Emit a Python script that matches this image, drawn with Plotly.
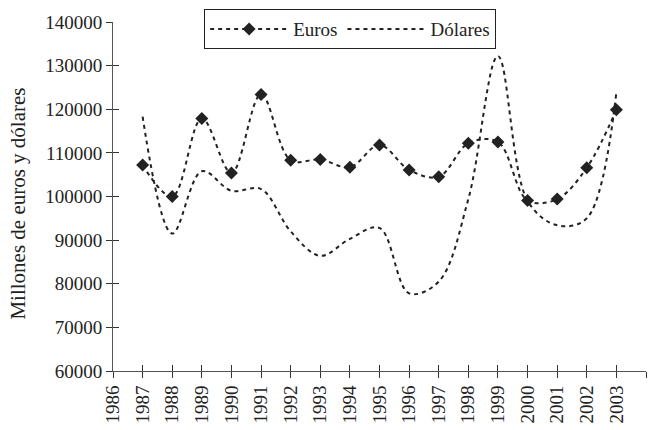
import plotly.graph_objects as go

# Annual series, 1987-2003
years = list(range(1987, 2004))
euros = [107200, 100000, 117900, 105400, 123400, 108300, 108500, 106700, 111800,
         106100, 104500, 112200, 112500, 99100, 99400, 106600, 119900]
dolares = [118300, 91500, 105800, 101300, 101700, 92000, 86400, 90300, 92800,
           77800, 80500, 99400, 132200, 99000, 93400, 95000, 123900]

x_ticks = list(range(1986, 2005))
y_ticks = list(range(60000, 140001, 10000))
y_title = "Millones de euros y dólares"

INK = "#222222"
FONT = "Liberation Serif, Times New Roman, serif"

fig = go.Figure()

fig.add_trace(go.Scatter(
    x=years, y=euros, name="Euros",
    mode="lines+markers",
    line=dict(color=INK, width=2, dash="4px,4px", shape="spline", smoothing=1.0),
    marker=dict(symbol="diamond", size=10, color=INK),
))
fig.add_trace(go.Scatter(
    x=years, y=dolares, name="Dólares",
    mode="lines",
    line=dict(color=INK, width=2, dash="4px,4px", shape="spline", smoothing=1.0),
))
# carrier for the secondary axes that draw the inner half of each tick
fig.add_trace(go.Scatter(
    x=years, y=euros, xaxis="x2", yaxis="y2", mode="lines",
    line=dict(width=0), hoverinfo="skip", showlegend=False,
))

axis_common = dict(
    showgrid=False, zeroline=False, tickcolor="#333333", tickwidth=1, ticklen=6,
)

fig.update_layout(
    width=652, height=430,
    margin=dict(l=113, r=6, t=22, b=54),
    paper_bgcolor="white", plot_bgcolor="white",
    font=dict(family=FONT, size=19, color=INK),
    showlegend=True,
    legend=dict(
        orientation="h", x=0.171, xanchor="left", y=1.037, yanchor="top",
        bgcolor="white", bordercolor=INK, borderwidth=1,
        font=dict(family=FONT, size=19, color=INK),
        itemwidth=78, tracegroupgap=0,
    ),
    xaxis=dict(
        range=[1986, 2004], tickmode="array", tickvals=x_ticks,
        ticktext=[str(v) for v in x_ticks], tickangle=-90,
        ticks="outside", showline=True, linecolor="#555555", linewidth=1,
        **axis_common,
    ),
    yaxis=dict(
        range=[60000, 140000], tickmode="array", tickvals=y_ticks,
        ticktext=[str(v) for v in y_ticks],
        ticks="outside", showline=True, linecolor="#555555", linewidth=1,
        **axis_common,
    ),
    xaxis2=dict(
        overlaying="x", anchor="y", side="bottom", range=[1986, 2004],
        tickmode="array", tickvals=x_ticks, ticks="inside",
        showticklabels=False, showline=False, **axis_common,
    ),
    yaxis2=dict(
        overlaying="y", anchor="x", side="left", range=[60000, 140000],
        tickmode="array", tickvals=y_ticks, ticks="inside",
        showticklabels=False, showline=False, **axis_common,
    ),
    annotations=[dict(
        text=y_title, textangle=-90, showarrow=False,
        xref="paper", yref="paper", x=-0.178, y=0.48,
        xanchor="center", yanchor="middle",
        font=dict(family=FONT, size=21, color=INK),
    )],
)

fig.write_html("out.html")
